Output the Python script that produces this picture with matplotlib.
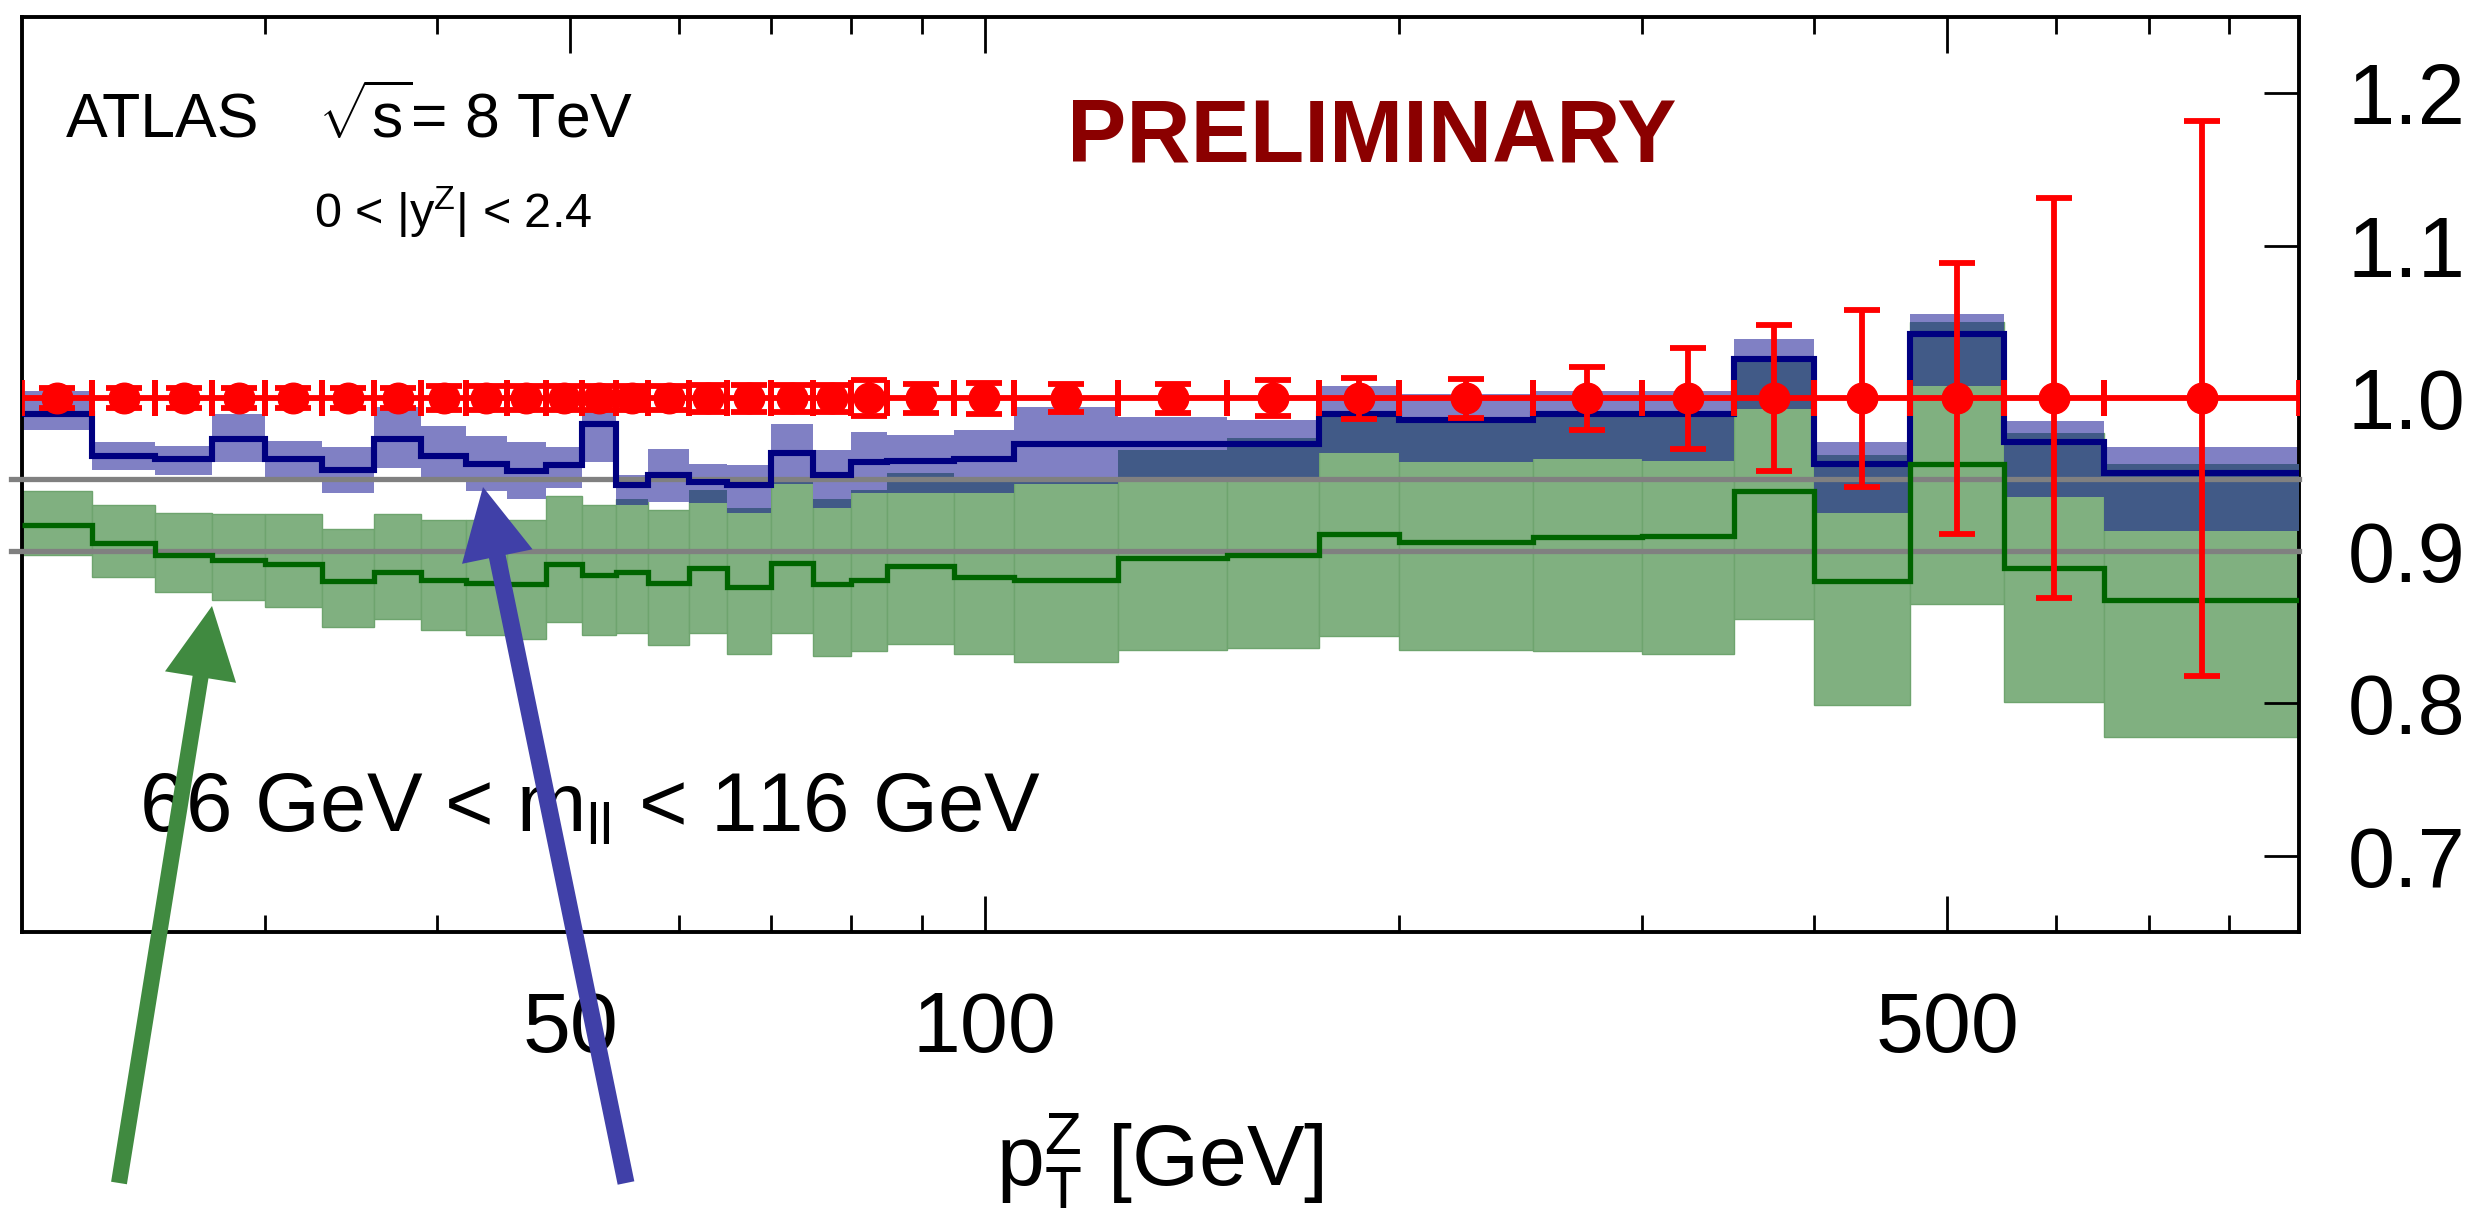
import numpy as np
import matplotlib.pyplot as plt
from matplotlib.patches import FancyArrow
from matplotlib.transforms import IdentityTransform
from matplotlib.ticker import FixedLocator, FixedFormatter, NullFormatter, NullLocator

# bin edges of pT(Z) [GeV]
edges = [20, 22.5, 25, 27.5, 30, 33, 36, 39, 42, 45, 48, 51, 54, 57, 61, 65, 70, 75,
         80, 85, 95, 105, 125, 150, 175, 200, 250, 300, 350, 400, 470, 550, 650, 900]

# data / data (red points)
data = [1.0, 1.0, 1.0, 1.0, 1.0, 1.0, 1.0, 1.0, 1.0, 1.0, 1.0, 1.0, 1.0, 1.0, 1.0, 1.0, 1.0,
        1.0, 1.0, 1.0, 1.0, 1.0, 1.0, 1.0, 1.0, 1.0, 1.0, 1.0, 1.0, 1.0, 1.0, 1.0, 1.0]
data_err = [0.0065, 0.0065, 0.0065, 0.0065, 0.0065, 0.0065, 0.0065, 0.008, 0.008, 0.008,
            0.008, 0.008, 0.008, 0.008, 0.009, 0.009, 0.009, 0.009, 0.0118, 0.0096, 0.010,
            0.0093, 0.0096, 0.0118, 0.0133, 0.0127, 0.0205, 0.033, 0.048, 0.058, 0.089,
            0.131, 0.182]

# blue prediction
blue_c = [0.990, 0.962, 0.960, 0.973, 0.960, 0.953, 0.973, 0.962, 0.957, 0.952, 0.956,
          0.983, 0.943, 0.950, 0.945, 0.943, 0.964, 0.950, 0.958, 0.959, 0.960, 0.970,
          0.970, 0.970, 0.990, 0.986, 0.990, 0.990, 1.026, 0.957, 1.042, 0.971, 0.951]
blue_hi = [1.005, 0.971, 0.969, 0.990, 0.972, 0.968, 0.994, 0.982, 0.975, 0.971, 0.968,
           0.993, 0.950, 0.967, 0.957, 0.956, 0.983, 0.966, 0.978, 0.976, 0.979, 0.994,
           0.988, 0.986, 1.008, 1.003, 1.005, 1.005, 1.039, 0.971, 1.055, 0.985, 0.968]
blue_lo = [0.979, 0.953, 0.950, 0.958, 0.948, 0.938, 0.954, 0.945, 0.939, 0.934, 0.941,
           0.958, 0.930, 0.932, 0.931, 0.925, 0.944, 0.928, 0.938, 0.938, 0.938, 0.944,
           0.945, 0.945, 0.964, 0.958, 0.960, 0.959, 0.993, 0.925, 1.008, 0.935, 0.913]

# green prediction
green_c = [0.917, 0.905, 0.897, 0.894, 0.891, 0.880, 0.886, 0.881, 0.879, 0.878, 0.891,
           0.884, 0.886, 0.879, 0.889, 0.876, 0.892, 0.878, 0.881, 0.890, 0.883, 0.881,
           0.895, 0.897, 0.911, 0.906, 0.909, 0.910, 0.939, 0.880, 0.957, 0.889, 0.868]
green_hi = [0.939, 0.930, 0.925, 0.924, 0.924, 0.914, 0.924, 0.920, 0.920, 0.920, 0.936,
            0.930, 0.934, 0.927, 0.940, 0.928, 0.945, 0.934, 0.940, 0.951, 0.945, 0.945,
            0.966, 0.974, 0.988, 0.986, 0.988, 0.988, 1.024, 0.963, 1.050, 0.977, 0.957]
green_lo = [0.897, 0.883, 0.873, 0.868, 0.863, 0.850, 0.855, 0.848, 0.845, 0.842, 0.853,
            0.845, 0.846, 0.838, 0.846, 0.832, 0.846, 0.831, 0.834, 0.839, 0.832, 0.827,
            0.835, 0.836, 0.844, 0.835, 0.834, 0.832, 0.855, 0.799, 0.865, 0.801, 0.778]

ref_lines = [0.947, 0.900]
x_major = [50, 100, 500]
x_major_labels = ['50', '100', '500']
x_minor = [30, 40, 60, 70, 80, 90, 200, 300, 400, 600, 700, 800]
y_ticks = [0.7, 0.8, 0.9, 1.0, 1.1, 1.2]
y_labels = ['0.7', '0.8', '0.9', '1.0', '1.1', '1.2']

plt.rcParams['font.family'] = ['Liberation Sans', 'DejaVu Sans']
plt.rcParams['mathtext.fontset'] = 'custom'
plt.rcParams['mathtext.rm'] = 'Liberation Sans'
plt.rcParams['mathtext.it'] = 'Liberation Sans:italic'
plt.rcParams['mathtext.bf'] = 'Liberation Sans:bold'

W, H = 2491, 1220
fig = plt.figure(figsize=(W / 100, H / 100), dpi=100)
ax = fig.add_axes([22 / W, 1 - 932 / H, (2299 - 22) / W, (932 - 17) / H])

edges = np.array(edges)
lo, hi = edges[:-1], edges[1:]
widths = hi - lo
centers = np.sqrt(lo * hi)
blue_lo, blue_hi = np.array(blue_lo), np.array(blue_hi)
green_lo, green_hi = np.array(green_lo), np.array(green_hi)

# bands
ax.bar(lo, green_hi - green_lo, width=widths, bottom=green_lo, align='edge',
       color='#80b080', edgecolor='#6ea46e', linewidth=1, zorder=1)
ax.bar(lo, blue_hi - blue_lo, width=widths, bottom=blue_lo, align='edge',
       color='#8080c4', linewidth=0, zorder=2)
ov_lo = np.maximum(blue_lo, green_lo)
ov_hi = np.minimum(blue_hi, green_hi)
m = ov_hi > ov_lo
ax.bar(lo[m], (ov_hi - ov_lo)[m], width=widths[m], bottom=ov_lo[m], align='edge',
       color='#415a87', linewidth=0, zorder=3)

for yv in ref_lines:
    ax.axhline(yv, xmin=-0.005, xmax=1, color='#808080', lw=3.8, zorder=4, clip_on=False)

s1 = ax.stairs(blue_c, edges, baseline=None, color='#000080', lw=4.4, zorder=5)
s2 = ax.stairs(green_c, edges, baseline=None, color='#006400', lw=3.8, zorder=5)
s1.set_joinstyle('miter')
s2.set_joinstyle('miter')

ax.errorbar(centers, data, xerr=[centers - lo, hi - centers], yerr=data_err, fmt='o',
            color='#ff0000', ms=22, elinewidth=4.2, capsize=13, capthick=4.2, zorder=6)

ax.set_xscale('log')
ax.set_xlim(20, 900)
ax.set_ylim(0.65, 1.25)

ax.xaxis.set_major_locator(FixedLocator(x_major))
ax.xaxis.set_major_formatter(FixedFormatter(x_major_labels))
ax.xaxis.set_minor_locator(FixedLocator(x_minor))
ax.xaxis.set_minor_formatter(NullFormatter())
ax.tick_params(axis='x', which='both', direction='in', top=True, bottom=True)
ax.tick_params(axis='x', which='major', length=26, width=2, pad=42, labelsize=62)
ax.tick_params(axis='x', which='minor', length=12, width=2)

ax.yaxis.tick_right()
ax.yaxis.set_major_locator(FixedLocator(y_ticks))
ax.yaxis.set_major_formatter(FixedFormatter(y_labels))
ax.yaxis.set_minor_locator(NullLocator())
ax.tick_params(axis='y', which='major', direction='in', length=25, width=2, pad=35,
               labelsize=61, left=False, right=True)
for sp in ax.spines.values():
    sp.set_linewidth(2.8)

fig.text(66 / W, 1 - 138 / H, 'ATLAS', fontsize=45, va='baseline')
fig.text(318 / W, 1 - 138 / H, r'$\sqrt{\mathrm{s}}$= 8 TeV', fontsize=45, va='baseline')
fig.text(314 / W, 1 - 228 / H, r'0 < |$\mathrm{y}^{\mathrm{Z}}$| < 2.4', fontsize=35, va='baseline')
fig.text(1372 / W, 1 - 161 / H, 'PRELIMINARY', fontsize=64, weight='bold',
         color='#8b0000', ha='center', va='baseline')
fig.text(139 / W, 1 - 832 / H, r'66 GeV < $\mathrm{m}_{\mathrm{ll}}$ < 116 GeV', fontsize=60,
         va='baseline')
fig.text(1160 / W, 1 - 1185 / H, r'$\mathrm{p}_{\mathrm{T}}^{\mathrm{Z}}$ [GeV]', fontsize=62,
         ha='center', va='baseline')

# arrows (figure pixels, origin bottom-left)
fig.add_artist(FancyArrow(119, 37, 93, 577, width=16, head_width=72, head_length=72,
                          length_includes_head=True, color='#408a40', lw=0,
                          transform=IdentityTransform(), zorder=10))
fig.add_artist(FancyArrow(626, 37, -143, 696, width=17, head_width=72, head_length=71,
                          length_includes_head=True, color='#4040a8', lw=0,
                          transform=IdentityTransform(), zorder=10))

fig.savefig('out.png', dpi=100)
